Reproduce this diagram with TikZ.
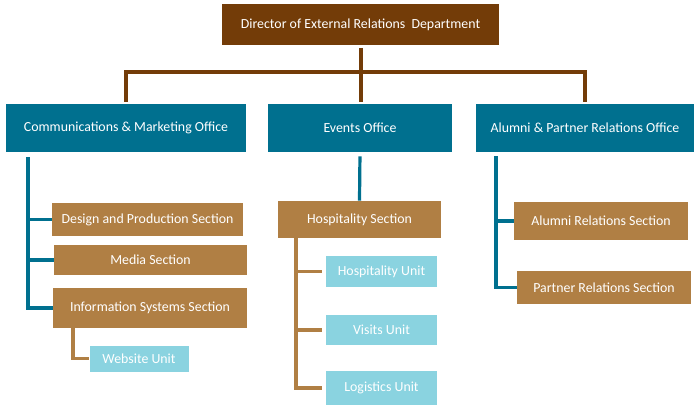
\documentclass[tikz,border=0pt]{standalone}
\usepackage{fontspec}
\setmainfont{Carlito}
\definecolor{dirbrown}{RGB}{115,60,8}
\definecolor{offteal}{RGB}{0,112,143}
\definecolor{secbrown}{RGB}{176,127,68}
\definecolor{unitcyan}{RGB}{138,211,224}
\begin{document}
\begin{tikzpicture}[x=0.75pt,y=-0.75pt,
  box/.style={draw=none,text=white,inner sep=0pt,font=\fontsize{10.4}{12}\selectfont},
  dirbox/.style={box,fill=dirbrown},
  offbox/.style={box,fill=offteal},
  secbox/.style={box,fill=secbrown},
  unitbox/.style={box,fill=unitcyan},
  brownline/.style={draw=dirbrown,line width=2.4pt},
  tealline/.style={draw=offteal,line width=2.4pt},
  secline/.style={draw=secbrown,line width=2.4pt}]
  \useasboundingbox (0,0) rectangle (700,410);
  % director
  \node[dirbox,minimum width=277*0.75pt,minimum height=41*0.75pt] (dir) at (360.5,25) {Director of External Relations\ \ Department};
  % offices
  \node[offbox,minimum width=240*0.75pt,minimum height=48*0.75pt] (comm) at (126,128) {Communications \& Marketing Office};
  \node[offbox,minimum width=184*0.75pt,minimum height=48*0.75pt] (events) at (360,128) {Events Office};
  \node[offbox,minimum width=218*0.75pt,minimum height=48*0.75pt] (alumni) at (585,128) {Alumni \& Partner Relations\ Office};
  % sections
  \node[secbox,minimum width=191*0.75pt,minimum height=33*0.75pt] (design) at (147.5,219.5) {Design and Production Section};
  \node[secbox,minimum width=193*0.75pt,minimum height=30*0.75pt] (media) at (150.5,260) {Media Section};
  \node[secbox,minimum width=194*0.75pt,minimum height=40*0.75pt] (infosys) at (150,308) {Information Systems Section};
  \node[secbox,minimum width=163*0.75pt,minimum height=37*0.75pt] (hosp) at (359.5,219.5) {Hospitality Section};
  \node[secbox,minimum width=174*0.75pt,minimum height=38*0.75pt] (alrel) at (601,221) {Alumni Relations Section};
  \node[secbox,minimum width=174*0.75pt,minimum height=33*0.75pt] (partner) at (604,287.5) {Partner Relations Section};
  % units
  \node[unitbox,minimum width=99*0.75pt,minimum height=26*0.75pt] (website) at (139,358.5) {Website Unit};
  \node[unitbox,minimum width=111*0.75pt,minimum height=31*0.75pt] (hunit) at (381.5,271.5) {Hospitality Unit};
  \node[unitbox,minimum width=111*0.75pt,minimum height=30*0.75pt] (visits) at (381.5,330) {Visits Unit};
  \node[unitbox,minimum width=111*0.75pt,minimum height=34*0.75pt] (logistics) at (381.5,388) {Logistics Unit};

  % trunks
  \coordinate (bus) at (361,72);
  \coordinate (ct) at (28,157);
  \coordinate (wt) at (73,328);
  \coordinate (ht) at (296,238);
  \coordinate (at) at (496,156);

  % director to offices
  \draw[brownline,shorten <=1.5pt] (dir.south -| bus) -- (bus);
  \draw[brownline,shorten >=1.5pt] (bus) -| (comm.north);
  \draw[brownline,shorten >=1.5pt] (bus) -| (alumni.north);
  \draw[brownline,shorten >=1.5pt] (bus) -- (bus |- events.north);

  % communications
  \draw[tealline] (ct) |- (design.west);
  \draw[tealline] (ct) |- (media.west);
  \draw[tealline] (ct) |- (infosys.west);
  \draw[secline] (wt) |- (website.west);

  % events
  \draw[tealline,shorten <=3pt] (events.south) -- (hosp.north);
  \draw[secline,shorten >=3pt] (ht) |- (hunit.west);
  \draw[secline,shorten >=3pt] (ht) |- (visits.west);
  \draw[secline,shorten >=3pt] (ht) |- (logistics.west);

  % alumni
  \draw[tealline] (at) |- (alrel.west);
  \draw[tealline] (at) |- (partner.west);
\end{tikzpicture}
\end{document}
